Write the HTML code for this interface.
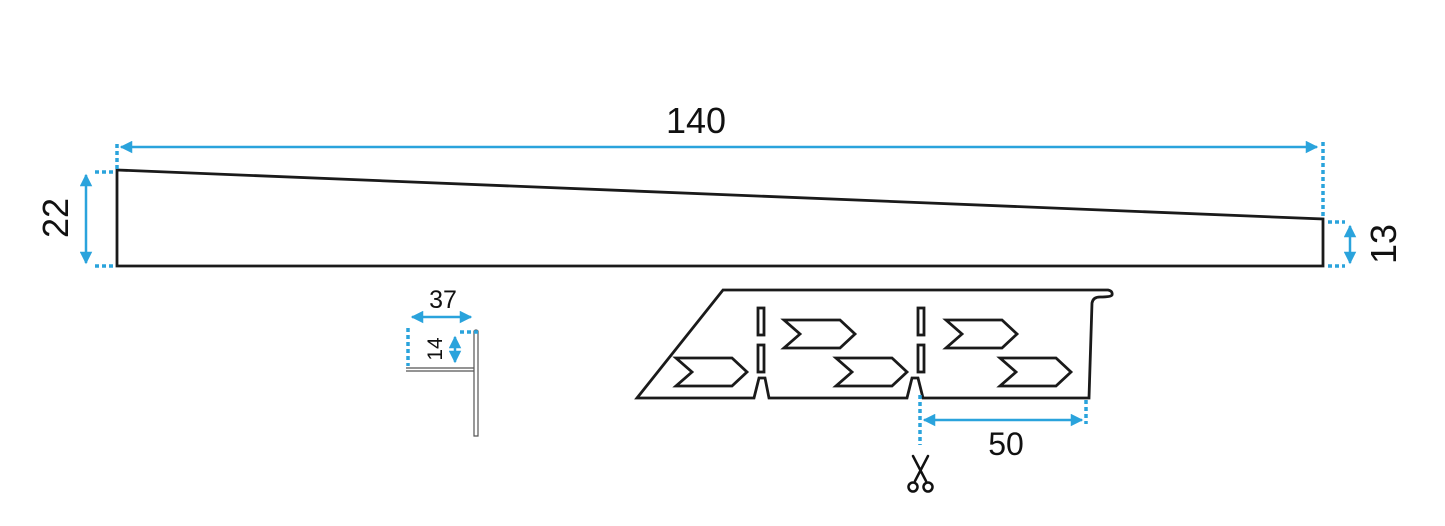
<!DOCTYPE html>
<html><head><style>body{margin:0;background:#fff}svg{display:block}</style></head><body>
<svg width="1445" height="526" viewBox="0 0 1445 526" font-family="Liberation Sans, sans-serif">
<defs><marker id="a" viewBox="0 0 10 10" refX="9" refY="5" markerWidth="5.5" markerHeight="5" orient="auto-start-reverse"><path d="M0,0L10,5L0,10z" fill="#2aa3dc"/></marker></defs>
<g fill="none" stroke="#1a1a1a" stroke-width="2.8" stroke-linejoin="miter">
<path d="M117,170 L1323,219 L1323,266 L117,266 Z"/>
<path d="M723,290 L1108,290 Q1113,291 1112,295 Q1111,297 1100,297 Q1093,297 1092,303 L1089,398 L923,398 L918,378 L912,378 L907,398 L769,398 L765,378 L759,378 L754,398 L637,398 Z"/>
<rect x="758" y="308" width="6" height="27"/><rect x="758" y="345" width="6" height="27"/>
<rect x="918" y="308" width="6" height="27"/><rect x="918" y="345" width="6" height="27"/>
<path d="M676,358 L732,358 L747,372 L732,386 L676,386 L692,372 Z"/>
<path d="M784,320 L840,320 L855,334 L840,348 L784,348 L800,334 Z"/>
<path d="M836,358 L892,358 L907,372 L892,386 L836,386 L852,372 Z"/>
<path d="M946,320 L1002,320 L1017,334 L1002,348 L946,348 L962,334 Z"/>
<path d="M1000,358 L1056,358 L1071,372 L1056,386 L1000,386 L1016,372 Z"/>
</g>
<g fill="none" stroke="#555" stroke-width="1.2">
<path d="M406,368 L474,368 L474,436 L478,436 L478,331 Q476,329 474,331 L474,368"/>
<path d="M406,371 L474,371"/>
</g>
<g stroke="#2aa3dc" fill="none">
<g stroke-width="3.5" stroke-dasharray="4,3">
<path d="M117,144 V170"/><path d="M1323,142 V216"/>
<path d="M95,172 H113"/><path d="M95,266 H113"/>
<path d="M1328,222 H1345"/><path d="M1328,266 H1345"/>
<path d="M920,395 V445"/><path d="M1086,400 V424"/>
<path d="M408,328 V366"/><path d="M460,332 H479"/>
</g>
<g stroke-width="2.5" marker-start="url(#a)" marker-end="url(#a)">
<path d="M121,147 H1317"/><path d="M86,175 V263"/><path d="M1350,226 V263"/>
<path d="M924,420 H1082"/><path d="M412,317 H471"/><path d="M455,337 V362"/>
</g>
</g>
<g fill="#111">
<text x="696" y="133" font-size="36" text-anchor="middle">140</text>
<text x="0" y="0" font-size="36" text-anchor="middle" transform="translate(68,218) rotate(-90)">22</text>
<text x="0" y="0" font-size="36" text-anchor="middle" transform="translate(1396,244) rotate(-90)">13</text>
<text x="1006" y="455" font-size="32" text-anchor="middle">50</text>
<text x="443" y="308" font-size="25" text-anchor="middle">37</text>
<text x="0" y="0" font-size="21" text-anchor="middle" transform="translate(442,349) rotate(-90)">14</text>
</g>
<g fill="none" stroke="#111" stroke-width="2.5" stroke-linecap="round">
<path d="M913,456 L926,481"/><path d="M928,456 L915,481"/>
<circle cx="913" cy="487" r="4.5"/><circle cx="928" cy="487" r="4.5"/>
</g>
</svg>
</body></html>
